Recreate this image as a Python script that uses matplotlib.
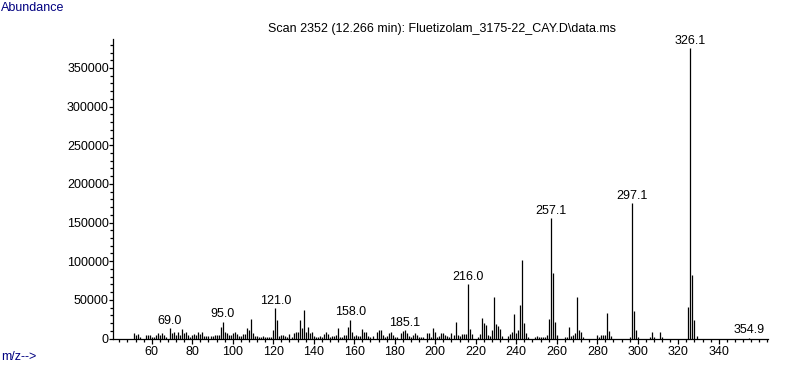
import matplotlib
matplotlib.use('Agg')
import matplotlib.pyplot as plt
from matplotlib.ticker import FixedLocator, MultipleLocator

# ---- data (m/z, abundance) ----
mz = [51, 52, 53, 54, 57, 58, 59, 60, 61, 62, 63, 64, 65, 66, 67, 69, 70, 71, 72, 73,
      74, 75, 76, 77, 78, 79, 80, 81, 82, 83, 84, 85, 86, 87, 88, 89, 90, 91, 92, 93,
      94, 95, 96, 97, 98, 99, 100, 101, 102, 103, 104, 105, 106, 107, 108, 109, 110,
      111, 112, 113, 114, 115, 116, 117, 118, 119, 120, 121, 122, 123, 124, 125, 126,
      127, 128, 129, 130, 131, 132, 133, 134, 135, 136, 137, 138, 139, 140, 141, 142,
      143, 144, 145, 146, 147, 148, 149, 150, 151, 152, 153, 154, 155, 156, 157, 158,
      159, 160, 161, 162, 163, 164, 165, 166, 167, 168, 169, 171, 172, 173, 174, 175,
      176, 177, 178, 179, 180, 181, 183, 184, 185, 186, 187, 188, 189, 190, 191, 192,
      193, 194, 196, 197, 198, 199, 200, 201, 202, 203, 204, 205, 206, 207, 208, 209,
      210, 211, 212, 213, 214, 215, 216, 217, 218, 221, 222, 223, 224, 225, 226, 227,
      228, 229, 230, 231, 232, 233, 236, 237, 238, 239, 240, 241, 242, 243, 244, 245,
      246, 249, 250, 251, 252, 253, 254, 255, 256, 257, 258, 259, 260, 264, 265, 266,
      267, 268, 269, 270, 271, 272, 273, 280, 281, 282, 283, 284, 285, 286, 287, 296,
      297, 298, 299, 300, 306, 307, 308, 311, 312, 325, 326, 327, 328, 329, 354.9]
abundance = [6500, 4300, 5200, 2200, 4300, 4300, 4300, 2200, 2200, 4300, 6500, 4300, 6500,
             4300, 2200, 13500, 6500, 7800, 4300, 8600, 4300, 12000, 6500, 8600, 4300, 2200,
             4300, 5200, 4300, 7800, 5200, 7800, 3400, 3400, 3400, 3400, 3400, 4300, 4300,
             4300, 15000, 21600, 7800, 6500, 4300, 4300, 6500, 7800, 5200, 3400, 3400, 5200,
             5200, 13000, 10800, 25000, 6500, 3400, 3400, 2200, 2200, 3400, 2200, 2200, 2200,
             2200, 10800, 39000, 23700, 3400, 4300, 4300, 3400, 2200, 5200, 2200, 6500, 8600,
             8600, 23700, 13000, 36700, 8600, 15000, 6500, 8600, 3400, 2200, 2200, 3400,
             2200, 5200, 7800, 5200, 2200, 3400, 3400, 4300, 13000, 2200, 2200, 4300, 4300,
             15000, 24500, 8600, 3000, 4300, 3000, 3000, 12900, 8600, 8600, 3000, 1300, 3000,
             8600, 11600, 10800, 4300, 1300, 3000, 6500, 8600, 4300, 1300, 1300, 7300, 9900,
             10800, 6500, 3000, 2200, 4300, 7300, 4300, 2200, 1300, 2200, 7300, 6500, 1300,
             13000, 8600, 2200, 3000, 6500, 6500, 4300, 3000, 2200, 6500, 4300, 21300, 4300,
             3000, 5600, 5600, 5600, 70300, 12900, 5600, 2200, 5600, 26700, 20300, 18100,
             4300, 3000, 10800, 53500, 18500, 15900, 12100, 3000, 3000, 5600, 8600, 31500,
             6500, 10800, 43100, 101400, 20300, 6500, 2200, 2200, 3000, 1300, 1300, 1300,
             2200, 4300, 25000, 155300, 84100, 21600, 4300, 2200, 2200, 15100, 3000, 3900,
             7300, 53500, 10800, 7800, 2200, 4300, 2200, 4300, 4300, 4300, 32800, 9500, 3000,
             2200, 174700, 35400, 10800, 2200, 2200, 8200, 2200, 8200, 2200, 40600, 375900,
             82000, 23700, 3000, 1000]

label_mz = [69, 95, 121, 158, 185, 216, 257, 297, 326, 354.9]
label_text = ['69.0', '95.0', '121.0', '158.0', '185.1', '216.0', '257.1', '297.1',
              '326.1', '354.9']

x_major = [60, 80, 100, 120, 140, 160, 180, 200, 220, 240, 260, 280, 300, 320, 340]
y_major = [0, 50000, 100000, 150000, 200000, 250000, 300000, 350000]

title = 'Scan 2352 (12.266 min): Fluetizolam_3175-22_CAY.D\\data.ms'

# ---- drawing ----
plt.rcParams['font.family'] = ['Liberation Sans', 'DejaVu Sans']
W, H = 787, 367
fig = plt.figure(figsize=(W / 100, H / 100), dpi=100)
ax = fig.add_axes([113 / W, (H - 338.5) / H, (768 - 113) / W, (338.5 - 39) / H])

ax.vlines(mz, 0, abundance, colors='black', lw=0.9)

ax.set_xlim(40.85, 364.3)
ax.set_ylim(0, 387500)
for s in ('top', 'right'):
    ax.spines[s].set_visible(False)
for s in ('left', 'bottom'):
    ax.spines[s].set_linewidth(0.9)

ax.xaxis.set_major_locator(FixedLocator(x_major))
ax.xaxis.set_minor_locator(FixedLocator([v for v in range(44, 365, 4) if v not in x_major]))
ax.set_xticklabels([str(v) for v in x_major])
ax.yaxis.set_major_locator(FixedLocator(y_major))
ax.yaxis.set_minor_locator(MultipleLocator(10000))
ax.set_yticklabels([str(v) for v in y_major])

ax.tick_params(axis='both', which='major', direction='out', length=3.5, width=0.9,
               labelsize=9, colors='black')
ax.tick_params(axis='both', which='minor', direction='out', length=2.2, width=0.9)
ax.tick_params(axis='y', which='major', length=3, pad=0)
ax.tick_params(axis='x', which='major', pad=2)

lookup = dict(zip(mz, abundance))
for xm, txt in zip(label_mz, label_text):
    ax.annotate(txt, (xm, lookup[xm]), xytext=(0, 1), textcoords='offset points',
                ha='center', va='bottom', fontsize=9, annotation_clip=False)

fig.text(442 / W, 1 - 29 / H, title, ha='center', va='center', fontsize=9)
fig.text(1 / W, 1 - 8 / H, 'Abundance', ha='left', va='center', fontsize=9,
         color='#000080')
fig.text(1 / W, 1 - 357 / H, 'm/z-->', ha='left', va='center', fontsize=9,
         color='#000080')

fig.savefig('out.png', dpi=100)
